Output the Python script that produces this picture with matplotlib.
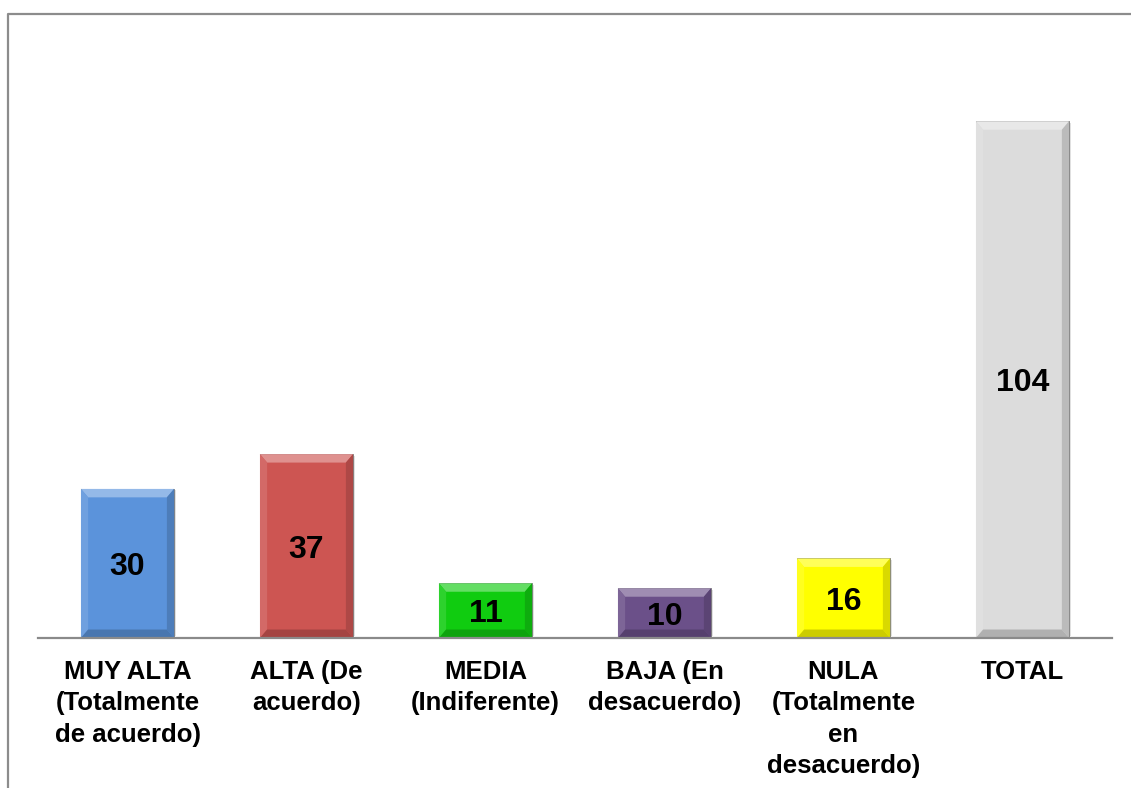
import numpy as np
import matplotlib.pyplot as plt
from matplotlib.patches import Polygon, Rectangle
from matplotlib.lines import Line2D
from matplotlib.colors import to_rgb

plt.rcParams['font.family'] = ['Liberation Sans', 'DejaVu Sans']

# Categorias y frecuencias
categorias = ['MUY ALTA\n(Totalmente\nde acuerdo)', 'ALTA (De\nacuerdo)',
              'MEDIA\n(Indiferente)', 'BAJA (En\ndesacuerdo)',
              'NULA\n(Totalmente\nen\ndesacuerdo)', 'TOTAL']
valores = [30, 37, 11, 10, 16, 104]
colores = ['#5b93db', '#cd5552', '#10cc10', '#6b5089', '#ffff00', '#dcdcdc']


def aclarar(c, f):
    r = np.array(to_rgb(c))
    return tuple(r + (1 - r) * f)


def oscurecer(c, f):
    r = np.array(to_rgb(c))
    return tuple(r * (1 - f))


fig = plt.figure(figsize=(11.31, 7.88), dpi=100)
ax = fig.add_axes([0.0336, 0.1904, 0.9496, 0.7566])

x = np.arange(len(valores))
ancho = 0.52
barras = ax.bar(x, valores, width=ancho, color=colores, zorder=3,
                edgecolor='#7a7a7a', linewidth=0.6)

ax.set_xlim(-0.5, len(valores) - 0.5)
ax.set_ylim(0, 120)

# Bisel de cada barra (arriba claro, lados y base oscuros)
dx, dy = 0.04, 1.7
for b, c in zip(barras, colores):
    x0, x1 = b.get_x(), b.get_x() + b.get_width()
    h = b.get_height()
    # sombra
    ax.add_patch(Rectangle((x1, 0.3), 0.012, h - 0.6, color='#000000',
                           alpha=0.12, zorder=2, lw=0))
    ax.add_patch(Polygon([(x0, h), (x1, h), (x1 - dx, h - dy), (x0 + dx, h - dy)],
                         closed=True, color=aclarar(c, 0.35), lw=0, zorder=4))
    ax.add_patch(Polygon([(x0, h), (x0 + dx, h - dy), (x0 + dx, dy), (x0, 0)],
                         closed=True, color=aclarar(c, 0.12), lw=0, zorder=4))
    ax.add_patch(Polygon([(x1, h), (x1 - dx, h - dy), (x1 - dx, dy), (x1, 0)],
                         closed=True, color=oscurecer(c, 0.15), lw=0, zorder=4))
    ax.add_patch(Polygon([(x0, 0), (x0 + dx, dy), (x1 - dx, dy), (x1, 0)],
                         closed=True, color=oscurecer(c, 0.2), lw=0, zorder=4))
    ax.text(b.get_x() + b.get_width() / 2, h / 2, str(h), ha='center',
            va='center_baseline', fontsize=23, fontweight='bold', color='black',
            zorder=5)

ax.set_xticks(x)
ax.set_xticklabels(categorias, fontsize=18.5, fontweight='bold', linespacing=1.38)
ax.tick_params(axis='x', length=0, pad=16)
ax.set_yticks([])
for s in ['top', 'left', 'right']:
    ax.spines[s].set_visible(False)
ax.spines['bottom'].set_color('#8a8a8a')
ax.spines['bottom'].set_linewidth(1.6)
ax.spines['bottom'].set_zorder(6)

# Marco exterior (izquierda y arriba)
fx = 8 / 1131
fy = 1 - 14 / 788
fig.add_artist(Line2D([fx, fx, 1.0], [0.0, fy, fy], color='#8c8c8c', lw=1.6))

fig.savefig('out.png', dpi=100)
